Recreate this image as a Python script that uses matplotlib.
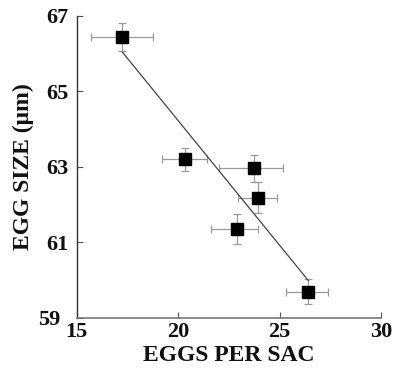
import matplotlib.pyplot as plt
import matplotlib.transforms as mtransforms

# data
eggs_per_sac = [17.25, 20.34, 23.73, 23.92, 22.90, 26.42]
egg_size = [66.44, 63.20, 62.96, 62.19, 61.36, 59.69]
x_err_low = [1.55, 1.15, 1.70, 0.95, 1.30, 1.10]
x_err_high = [1.50, 1.10, 1.45, 0.95, 1.05, 0.95]
y_err = [0.37, 0.30, 0.35, 0.40, 0.40, 0.33]

# regression line end points
fit_x = [17.25, 26.42]
fit_y = [66.04, 59.99]

x_ticks = [15, 20, 25, 30]
y_ticks = [59, 61, 63, 65, 67]

plt.rcParams["font.family"] = ["Liberation Serif", "DejaVu Serif"]
plt.rcParams["font.weight"] = "bold"

fig = plt.figure(figsize=(3.96, 3.79), dpi=100)
ax = fig.add_axes([0.194, 0.161, 0.768, 0.797])

ax.plot(fit_x, fit_y, color="#444444", lw=0.9, zorder=2)
ax.errorbar(eggs_per_sac, egg_size,
            xerr=[x_err_low, x_err_high], yerr=y_err,
            fmt="none", ecolor="#9a9a9a", elinewidth=0.9,
            capsize=3, capthick=0.9, zorder=1)
ax.plot(eggs_per_sac, egg_size, "s", color="black", ms=9, zorder=3)

ax.set_xlim(15, 30)
ax.set_ylim(59, 67)
ax.set_xticks(x_ticks)
ax.set_yticks(y_ticks)

for side in ["top", "right"]:
    ax.spines[side].set_visible(False)
ax.spines["left"].set_color("#333333")
ax.spines["bottom"].set_color("#777777")
ax.spines["left"].set_linewidth(1.0)
ax.spines["bottom"].set_linewidth(1.2)

ax.tick_params(direction="in", length=4, width=0.8, colors="#555555",
               labelcolor="#111111", labelsize=16)
ax.tick_params(axis="y", pad=6)
ax.tick_params(axis="x", pad=3)

# nudge "59" left so it clears the "15" below the corner
lbl59 = ax.get_yticklabels()[0]
nudge = mtransforms.ScaledTranslation(-6 / 72, 0, fig.dpi_scale_trans)
lbl59.set_transform(lbl59.get_transform() + nudge)

ax.set_xlabel("EGGS PER SAC", fontsize=17, fontweight="bold", color="#111111", labelpad=2)
ax.set_ylabel("EGG SIZE (μm)", fontsize=17, fontweight="bold", color="#111111", labelpad=3)

fig.savefig("out.png", dpi=100)
